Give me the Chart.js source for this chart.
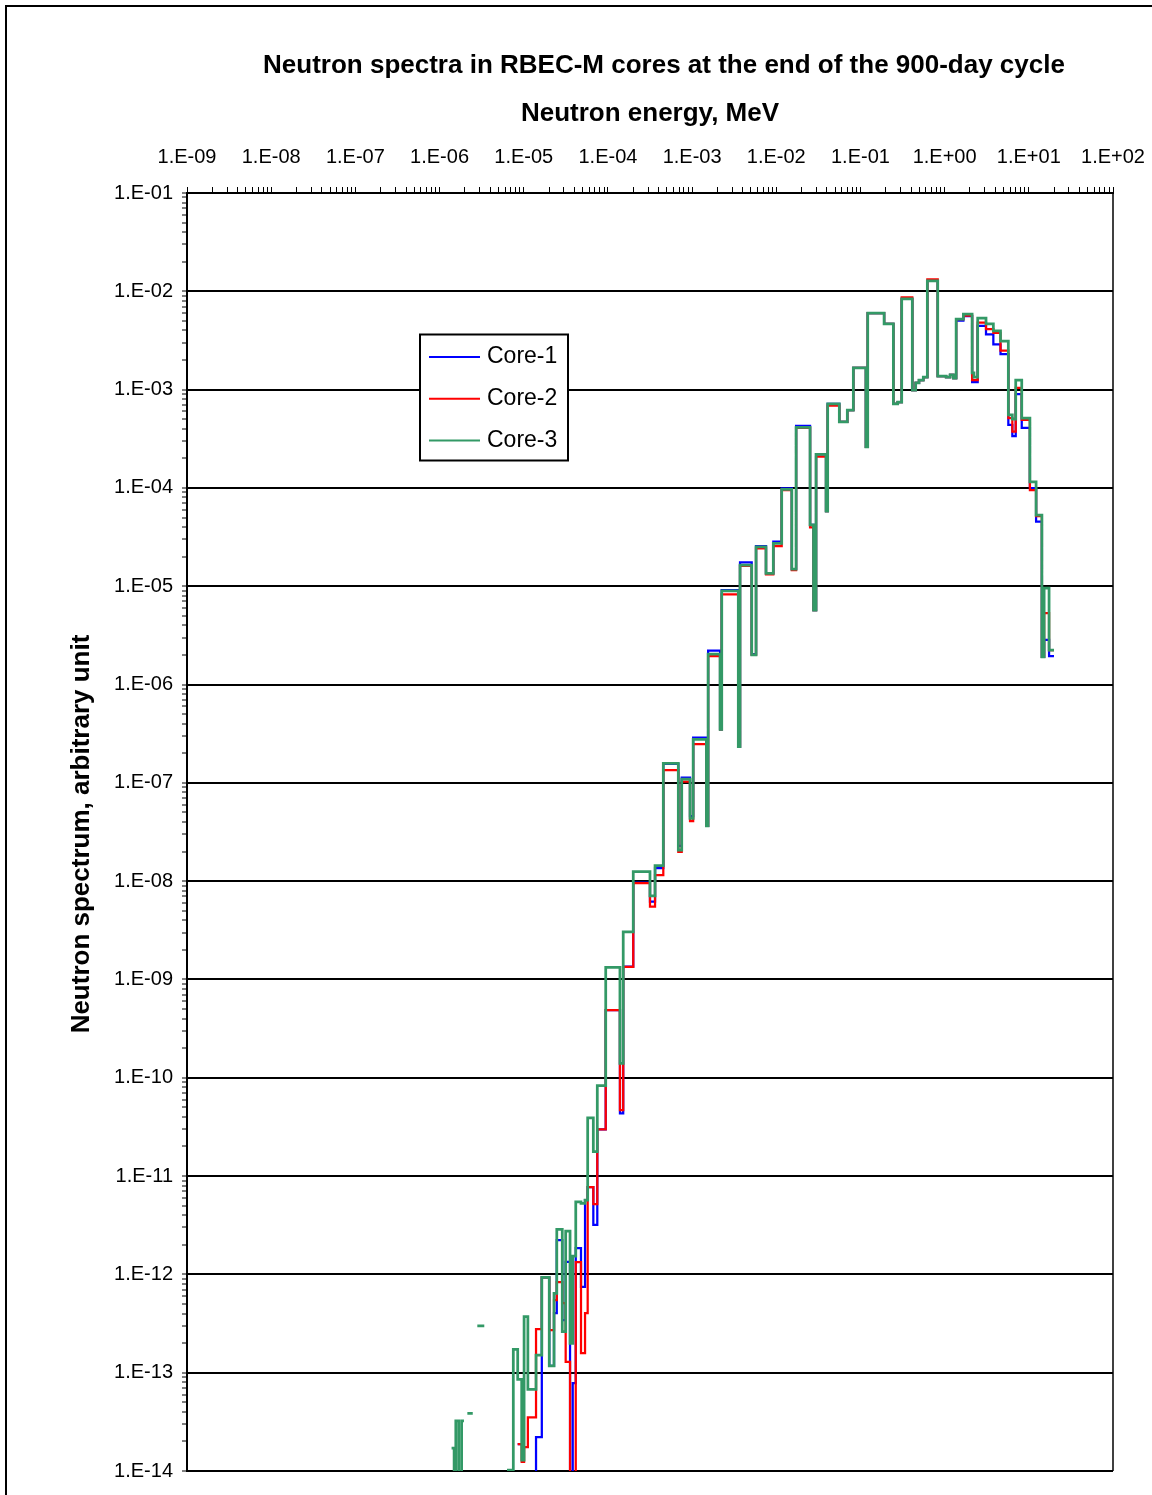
<!DOCTYPE html>
<html><head><meta charset="utf-8">
<script src="https://cdn.jsdelivr.net/npm/chart.js@4.4.1/dist/chart.umd.min.js"></script>
<style>html,body{margin:0;padding:0;background:#fff}canvas{display:block}</style>
</head><body>
<canvas id="c" width="1152" height="1495"></canvas>
<script>
const chartTitle = 'Neutron spectra in RBEC-M cores at the end of the 900-day cycle';
const xAxisTitle = 'Neutron energy, MeV';
const yAxisTitle = 'Neutron spectrum, arbitrary unit';
const seriesNames = ['Core-1', 'Core-2', 'Core-3'];
const seriesColors = ['#0000FF', '#FF0000', '#339966'];
const xTickLabels = ['1.E-09','1.E-08','1.E-07','1.E-06','1.E-05','1.E-04','1.E-03','1.E-02','1.E-01','1.E+00','1.E+01','1.E+02'];
const yTickLabels = ['1.E-14','1.E-13','1.E-12','1.E-11','1.E-10','1.E-09','1.E-08','1.E-07','1.E-06','1.E-05','1.E-04','1.E-03','1.E-02','1.E-01'];

// value below the visible range (line drops off the bottom of the plot)
const B = 1e-16;

// group boundaries, MeV
const energyBounds = [1.39e-6,1.49e-6,1.56e-6,1.69e-6,1.83e-6,1.95e-6,2.14e-6,2.48e-6,2.81e-6,3.40e-6,
  6.33e-6,7.52e-6,8.48e-6,9.46e-6,1.01e-5,1.12e-5,1.40e-5,1.64e-5,2.01e-5,2.29e-5,
  2.47e-5,2.87e-5,3.15e-5,3.55e-5,3.82e-5,4.15e-5,4.79e-5,5.35e-5,5.75e-5,6.71e-5,
  7.48e-5,9.42e-5,1.39e-4,1.52e-4,2.00e-4,3.16e-4,3.63e-4,4.55e-4,6.86e-4,7.53e-4,
  9.45e-4,1.03e-3,1.48e-3,1.55e-3,2.15e-3,2.25e-3,3.54e-3,3.71e-3,5.11e-3,5.75e-3,
  7.55e-3,9.22e-3,1.16e-2,1.53e-2,1.72e-2,2.52e-2,2.77e-2,2.97e-2,3.90e-2,4.08e-2,
  5.61e-2,6.98e-2,8.23e-2,0.116,0.122,0.191,0.246,0.277,0.309,0.413,
  0.453,0.496,0.558,0.623,0.828,1.04,1.16,1.27,1.37,1.67,
  2.12,2.23,2.47,3.10,3.79,4.61,5.71,6.37,6.99,8.24,
  10.3,12.2,14.3,15.2,17.4,19.9];

const core1 = [null,null,null,null,null,null,null,null,null,null,
  null,null,1.88e-14,null,null,B,2.21e-14,9.33e-13,1.17e-13,4.04e-13,
  2.23e-12,3.43e-13,1.34e-12,B,7.83e-14,1.85e-12,7.48e-13,5.70e-12,7.73e-12,3.18e-12,
  2.99e-11,4.89e-10,4.35e-11,1.35e-9,9.64e-9,6.18e-9,1.36e-8,1.56e-7,2.28e-8,1.13e-7,
  4.59e-8,2.88e-7,3.64e-8,2.21e-6,3.50e-7,9.14e-6,2.33e-7,1.75e-5,2.04e-6,2.56e-5,
  1.35e-5,2.84e-5,9.91e-5,1.49e-5,4.27e-4,4.20e-5,5.73e-6,2.20e-4,5.82e-5,7.14e-4,
  4.71e-4,6.20e-4,1.66e-3,2.61e-4,6.01e-3,4.65e-3,7.14e-4,7.48e-4,8.36e-3,9.91e-4,
  1.17e-3,1.25e-3,1.34e-3,1.28e-2,1.37e-3,1.34e-3,1.41e-3,1.31e-3,5.02e-3,5.60e-3,
  1.19e-3,1.19e-3,4.44e-3,3.65e-3,2.89e-3,2.30e-3,4.37e-4,3.37e-4,9.02e-4,4.07e-4,
  9.98e-5,4.53e-5,1.91e-6,2.84e-6,1.95e-6];

const core2 = [null,null,null,null,null,null,null,null,null,null,
  null,null,1.88e-14,1.24e-14,1.75e-14,3.51e-14,2.77e-13,9.33e-13,2.71e-13,5.48e-13,
  8.35e-13,5.11e-13,1.29e-13,B,B,1.33e-12,1.58e-13,4.04e-13,7.73e-12,5.19e-12,
  2.99e-11,4.89e-10,4.69e-11,1.34e-9,9.57e-9,5.50e-9,1.15e-8,1.35e-7,1.99e-8,1.03e-7,
  4.08e-8,2.48e-7,3.64e-8,1.95e-6,3.50e-7,8.28e-6,2.33e-7,1.61e-5,2.00e-6,2.43e-5,
  1.32e-5,2.56e-5,9.52e-5,1.46e-5,4.07e-4,3.97e-5,5.73e-6,2.08e-4,5.82e-5,6.89e-4,
  4.71e-4,6.20e-4,1.66e-3,2.61e-4,6.01e-3,4.65e-3,7.14e-4,7.48e-4,8.65e-3,9.91e-4,
  1.17e-3,1.25e-3,1.34e-3,1.32e-2,1.37e-3,1.34e-3,1.41e-3,1.31e-3,5.22e-3,5.65e-3,
  1.25e-3,1.25e-3,4.79e-3,4.13e-3,3.77e-3,2.49e-3,5.14e-4,3.73e-4,1.04e-3,4.91e-4,
  9.52e-5,5.18e-5,1.91e-6,5.33e-6,2.24e-6];

const core3 = [1.71e-14,B,3.24e-14,B,3.24e-14,null,3.85e-14,null,3.00e-13,null,
  1.02e-14,1.73e-13,8.55e-14,1.29e-14,3.71e-13,6.76e-14,1.51e-13,9.33e-13,1.17e-13,6.41e-13,
  2.87e-12,2.61e-13,2.75e-12,1.99e-13,1.53e-12,5.48e-12,5.27e-12,5.70e-12,3.92e-11,1.77e-11,
  8.30e-11,1.33e-9,1.40e-10,3.05e-9,1.25e-8,7.10e-9,1.44e-8,1.58e-7,2.07e-8,1.09e-7,
  4.36e-8,2.77e-7,3.64e-8,2.04e-6,3.50e-7,8.99e-6,2.33e-7,1.64e-5,2.00e-6,2.52e-5,
  1.35e-5,2.73e-5,9.68e-5,1.49e-5,4.13e-4,4.20e-5,5.73e-6,2.20e-4,5.82e-5,7.14e-4,
  4.71e-4,6.20e-4,1.66e-3,2.61e-4,6.01e-3,4.65e-3,7.14e-4,7.48e-4,8.36e-3,9.91e-4,
  1.17e-3,1.25e-3,1.34e-3,1.28e-2,1.37e-3,1.34e-3,1.41e-3,1.31e-3,5.22e-3,5.87e-3,
  1.48e-3,1.34e-3,5.35e-3,4.65e-3,3.95e-3,3.12e-3,5.52e-4,5.02e-4,1.25e-3,5.14e-4,
  1.15e-4,5.30e-5,1.91e-6,9.59e-6,2.24e-6];

const FONT = '"Liberation Sans", Arial, Helvetica, sans-serif';

function histogramPoints(vals) {
  const pts = [];
  for (let i = 0; i < vals.length; i++) {
    const v = vals[i];
    if (v === null) {
      if (pts.length && pts[pts.length - 1].y !== null) pts.push({x: energyBounds[i], y: null});
      continue;
    }
    pts.push({x: energyBounds[i], y: v});
    pts.push({x: energyBounds[i + 1], y: v});
  }
  return pts;
}

function decadeTicks(minExp, maxExp) {
  const t = [];
  for (let e = minExp; e < maxExp; e++) {
    for (let k = 1; k <= 9; k++) t.push({value: k * Math.pow(10, e), major: k === 1});
  }
  t.push({value: Math.pow(10, maxExp), major: true});
  return t;
}

function decadeLabel(value, labels, minExp) {
  const e = Math.round(Math.log10(value));
  if (Math.abs(value / Math.pow(10, e) - 1) < 1e-6) return labels[e - minExp];
  return '';
}

const decorPlugin = {
  id: 'decor',
  beforeDraw(chart) {
    const ctx = chart.ctx;
    ctx.save();
    ctx.fillStyle = '#fff';
    ctx.fillRect(0, 0, chart.width, chart.height);
    ctx.restore();
  },
  afterDraw(chart) {
    const ctx = chart.ctx;
    const a = chart.chartArea;
    ctx.save();
    // outer frame
    ctx.strokeStyle = '#000';
    ctx.lineWidth = 2;
    ctx.beginPath();
    ctx.moveTo(6, chart.height + 5);
    ctx.lineTo(6, 6);
    ctx.lineTo(chart.width + 5, 6);
    ctx.stroke();
    // right plot border
    ctx.lineWidth = 1.5;
    ctx.beginPath();
    ctx.moveTo(a.right, a.top);
    ctx.lineTo(a.right, a.bottom);
    ctx.stroke();
    // titles
    ctx.fillStyle = '#000';
    ctx.textAlign = 'center';
    ctx.textBaseline = 'middle';
    ctx.font = 'bold 26px ' + FONT;
    ctx.fillText(chartTitle, 664, 66);
    ctx.fillText(xAxisTitle, (a.left + a.right) / 2, 114);
    ctx.save();
    ctx.translate(82, 834);
    ctx.rotate(-Math.PI / 2);
    ctx.fillText(yAxisTitle, 0, 0);
    ctx.restore();
    // legend
    const lx = 420, ly = 334.5, lw = 148, lh = 126;
    ctx.fillStyle = '#fff';
    ctx.fillRect(lx, ly, lw, lh);
    ctx.strokeStyle = '#000';
    ctx.lineWidth = 2;
    ctx.strokeRect(lx, ly, lw, lh);
    ctx.font = '23px ' + FONT;
    ctx.textAlign = 'left';
    ctx.textBaseline = 'middle';
    for (let i = 0; i < seriesNames.length; i++) {
      const y = 357 + i * 41.7;
      ctx.strokeStyle = seriesColors[i];
      ctx.lineWidth = 2;
      ctx.beginPath();
      ctx.moveTo(429, y);
      ctx.lineTo(480, y);
      ctx.stroke();
      ctx.fillStyle = '#000';
      ctx.fillText(seriesNames[i], 487, y);
    }
    ctx.restore();
  }
};

const seriesData = [core1, core2, core3];
const lineWidths = [2.25, 2.25, 2.75];
const datasets = seriesData.map((vals, i) => ({
  label: seriesNames[i],
  data: histogramPoints(vals),
  borderColor: seriesColors[i],
  backgroundColor: seriesColors[i],
  borderWidth: lineWidths[i],
  pointRadius: 0,
  tension: 0,
  fill: false,
  spanGaps: false,
  order: 3 - i
}));

new Chart(document.getElementById('c'), {
  type: 'line',
  data: {datasets},
  plugins: [decorPlugin],
  options: {
    responsive: false,
    animation: false,
    devicePixelRatio: 1,
    layout: {padding: {left: 0, top: 0, right: 39, bottom: 24}},
    plugins: {legend: {display: false}, tooltip: {enabled: false}, title: {display: false}},
    scales: {
      x: {
        type: 'logarithmic',
        position: 'top',
        min: 1e-9,
        max: 1e2,
        afterBuildTicks: (s) => { s.ticks = decadeTicks(-9, 2); },
        afterFit: (s) => { s.height = 193; s.paddingLeft = 0; s.paddingRight = 0; },
        grid: {drawOnChartArea: false, drawTicks: true, tickLength: 6, color: '#000', tickColor: '#000', tickWidth: 1},
        border: {display: true, color: '#000', width: 2},
        ticks: {
          autoSkip: false, maxRotation: 0, minRotation: 0, padding: 18, color: '#000',
          font: {family: FONT, size: 20},
          callback: (v) => decadeLabel(v, xTickLabels, -9)
        }
      },
      y: {
        type: 'logarithmic',
        position: 'left',
        min: 1e-14,
        max: 1e-1,
        afterBuildTicks: (s) => { s.ticks = decadeTicks(-14, -1); },
        afterFit: (s) => { s.width = 187; s.paddingTop = 0; s.paddingBottom = 0; },
        grid: {
          drawOnChartArea: true, drawTicks: true, tickLength: 5,
          color: (c) => (c.tick && c.tick.major) ? '#000' : 'rgba(0,0,0,0)',
          lineWidth: 2, tickColor: '#000', tickWidth: 1
        },
        border: {display: true, color: '#000', width: 2},
        ticks: {
          autoSkip: false, padding: 9, color: '#000',
          font: {family: FONT, size: 20},
          callback: (v) => decadeLabel(v, yTickLabels, -14)
        }
      }
    }
  }
});
</script>
</body></html>
